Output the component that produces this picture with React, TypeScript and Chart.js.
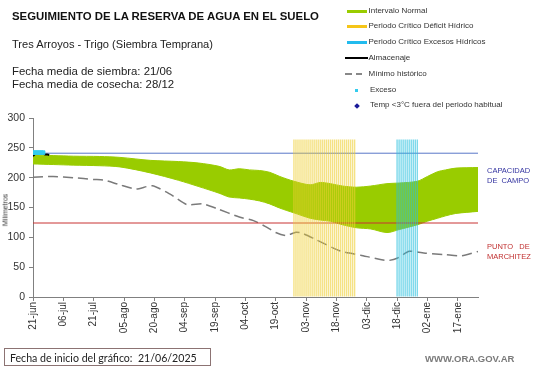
import React, { useEffect, useRef } from "react";
import { Chart, registerables } from "chart.js";

Chart.register(...registerables);

// ---- Data (days counted from 21/06/2025) ----
const xTickLabels = [
  "21-jun", "06-jul", "21-jul", "05-ago", "20-ago", "04-sep", "19-sep", "04-oct",
  "19-oct", "03-nov", "18-nov", "03-dic", "18-dic", "02-ene", "17-ene",
];

const bandDays = [0, 10, 20, 33, 43, 58, 72, 82, 92, 97, 102, 107, 112, 117, 122, 129, 137, 142, 147, 153, 160, 167, 175, 181, 190, 195, 200, 204, 209, 220];
const bandUpper = [238.5, 237, 236, 235.5, 234, 229, 227, 224.5, 219, 213, 215, 213, 212, 209, 202, 194, 188, 192, 190, 186, 184, 186, 190, 191, 194, 202, 210, 213, 216, 217];
const bandLower = [223, 222, 221, 220, 218, 208, 195.5, 185, 174, 167.5, 166, 164, 161, 156, 149, 141, 132, 129, 127, 121, 116, 114, 108, 113, 121, 127, 132, 136, 140, 143.5];

const minDays = [0, 10, 20, 30, 35, 43, 51, 59, 68, 76, 84, 91, 102, 109, 115, 120, 125, 130, 133, 140, 152, 162, 175, 180, 186, 194, 204, 212, 220];
const minValues = [200.5, 202, 200, 197, 196, 188, 181, 186.5, 172, 155, 156, 148, 134, 128, 118, 108, 103, 108.5, 107, 96, 77, 70, 61, 65, 76.5, 73.5, 71, 69, 76.5];

const storageDays = [0, 1, 2, 3, 4, 5, 6, 7, 8];
const storageValues = [236, 240, 240, 240, 240, 240, 239, 239, 238];

const excessDays = [0, 1, 2, 3, 4, 5];
const excessValues = [242, 242, 242, 242, 242, 242];

const fieldCapacity = 241;
const wiltingPoint = 124;

const deficitPeriod = [129, 159];
const excessPeriod = [180, 190];
const periodTop = 264;
const xMax = 220;

const legendItems = [
  { label: "Intervalo Normal", kind: "bar", color: "#99cc00" },
  { label: "Periodo Crítico Déficit Hídrico", kind: "bar", color: "#f5c518" },
  { label: "Periodo Crítico Excesos Hídricos", kind: "bar", color: "#22bbee" },
  { label: "Almacenaje", kind: "line", color: "#000000" },
  { label: "Mínimo histórico", kind: "dash", color: "#888888" },
  { label: "Exceso", kind: "dot", color: "#33ccee" },
  { label: "Temp <3°C fuera del periodo habitual", kind: "diamond", color: "#1a1a99" },
];

const pts = (xs: number[], ys: number[]) => xs.map((x, i) => ({ x, y: ys[i] }));
const daysIn = (p: number[], v: number) => {
  const out: { x: number; y: number }[] = [];
  for (let d = p[0]; d <= p[1]; d++) out.push({ x: d, y: v });
  return out;
};

const FONT = "'Liberation Sans', Arial, sans-serif";

export default function App() {
  const ref = useRef<HTMLCanvasElement | null>(null);

  useEffect(() => {
    if (!ref.current) return;
    const chart = new Chart(ref.current, {
      type: "line",
      data: {
        datasets: [
          {
            type: "bar",
            data: daysIn(deficitPeriod, periodTop),
            backgroundColor: "rgba(238, 206, 50, 0.6)",
            barPercentage: 0.7,
            categoryPercentage: 1,
            grouped: false,
          } as any,
          {
            type: "bar",
            data: daysIn(excessPeriod, periodTop),
            backgroundColor: "rgba(40, 192, 222, 0.6)",
            barPercentage: 0.7,
            categoryPercentage: 1,
            grouped: false,
          } as any,
          {
            type: "line",
            data: pts(excessDays, excessValues),
            showLine: false,
            pointStyle: "rect",
            pointRadius: 2.5,
            backgroundColor: "#33ccee",
            borderColor: "#33ccee",
          },
          {
            type: "line",
            data: pts(storageDays, storageValues),
            borderColor: "#000000",
            borderWidth: 2,
            pointRadius: 0,
          },
          {
            type: "line",
            data: [{ x: 0, y: fieldCapacity }, { x: xMax, y: fieldCapacity }],
            borderColor: "#5a78c8",
            borderWidth: 1,
            pointRadius: 0,
          },
          {
            type: "line",
            data: [{ x: 0, y: wiltingPoint }, { x: xMax, y: wiltingPoint }],
            borderColor: "#c83232",
            borderWidth: 1,
            pointRadius: 0,
          },
          {
            type: "line",
            data: pts(minDays, minValues),
            borderColor: "#7a7a7a",
            borderWidth: 1.5,
            borderDash: [10, 5],
            pointRadius: 0,
            tension: 0.2,
          },
          {
            type: "line",
            data: pts(bandDays, bandUpper),
            borderColor: "#99cc00",
            backgroundColor: "#99cc00",
            borderWidth: 1,
            pointRadius: 0,
            fill: "+1",
            tension: 0.3,
          },
          {
            type: "line",
            data: pts(bandDays, bandLower),
            borderColor: "#99cc00",
            borderWidth: 1,
            pointRadius: 0,
            fill: false,
            tension: 0.3,
          },
        ],
      },
      options: {
        animation: false,
        responsive: false,
        maintainAspectRatio: false,
        devicePixelRatio: 1,
        layout: { padding: { left: 0, right: 63, top: 118, bottom: 0 } },
        plugins: { legend: { display: false }, tooltip: { enabled: false } },
        scales: {
          x: {
            type: "linear",
            min: 0,
            max: xMax,
            offset: false,
            ticks: {
              stepSize: 15,
              includeBounds: false,
              autoSkip: false,
              minRotation: 90,
              maxRotation: 90,
              color: "#333333",
              padding: 1,
              font: { family: FONT, size: 10 },
              callback: (v: any) => xTickLabels[Math.round(Number(v) / 15)] ?? "",
            },
            grid: { drawOnChartArea: false, drawTicks: true, tickLength: 4, color: "#808080", offset: false },
            border: { display: true, color: "#808080", width: 1 },
            afterFit: (s: any) => { s.height = 71; },
          },
          y: {
            min: 0,
            max: 300,
            ticks: {
              stepSize: 50,
              color: "#333333",
              padding: 4,
              font: { family: FONT, size: 10.5 },
            },
            grid: { drawOnChartArea: false, drawTicks: true, tickLength: 4, color: "#808080" },
            border: { display: true, color: "#808080", width: 1 },
            afterFit: (s: any) => { s.width = 33; },
          },
        },
      } as any,
    });
    return () => chart.destroy();
  }, []);

  const abs = (left: number, top: number, extra: React.CSSProperties = {}): React.CSSProperties => ({
    position: "absolute",
    left,
    top,
    whiteSpace: "pre",
    fontFamily: FONT,
    lineHeight: 1,
    ...extra,
  });

  return (
    <div style={{ position: "absolute", left: 0, top: 0, width: 541, height: 368, background: "#ffffff", overflow: "hidden" }}>
      <canvas ref={ref} width={541} height={368} style={{ position: "absolute", left: 0, top: 0, width: 541, height: 368 }} />

      <div style={abs(12, 11, { fontSize: 11.4, fontWeight: "bold", color: "#111" })}>
        SEGUIMIENTO DE LA RESERVA DE AGUA EN EL SUELO
      </div>
      <div style={abs(12, 39, { fontSize: 11.1, color: "#222" })}>Tres Arroyos - Trigo (Siembra Temprana)</div>
      <div style={abs(12, 66, { fontSize: 11.4, color: "#222" })}>Fecha media de siembra: 21/06</div>
      <div style={abs(12, 79, { fontSize: 11.4, color: "#222" })}>Fecha media de cosecha: 28/12</div>

      {legendItems.map((it, i) => {
        const cy = 11 + i * 15.8;
        let sw: React.ReactNode = null;
        if (it.kind === "bar") {
          sw = <div style={{ position: "absolute", left: 347, top: cy - 1.5, width: 20, height: 3, background: it.color }} />;
        } else if (it.kind === "line") {
          sw = <div style={{ position: "absolute", left: 345, top: cy - 1, width: 23, height: 2, background: it.color }} />;
        } else if (it.kind === "dash") {
          sw = (
            <>
              <div style={{ position: "absolute", left: 345, top: cy - 0.75, width: 7, height: 1.5, background: it.color }} />
              <div style={{ position: "absolute", left: 356, top: cy - 0.75, width: 6, height: 1.5, background: it.color }} />
            </>
          );
        } else if (it.kind === "dot") {
          sw = <div style={{ position: "absolute", left: 355, top: cy - 1.5, width: 3, height: 3, background: it.color }} />;
        } else {
          sw = <div style={{ position: "absolute", left: 354.5, top: cy - 2, width: 4, height: 4, background: it.color, transform: "rotate(45deg)" }} />;
        }
        const tx = it.kind === "dot" || it.kind === "diamond" ? 370 : 368.5;
        return (
          <React.Fragment key={i}>
            {sw}
            <div style={abs(tx, cy - 4.5, { fontSize: 8, color: "#333" })}>{it.label}</div>
          </React.Fragment>
        );
      })}

      <div style={abs(487, 166, { fontSize: 7.5, color: "#3333a0", lineHeight: "9.5px" })}>{"CAPACIDAD\nDE  CAMPO"}</div>
      <div style={abs(487, 242, { fontSize: 7.5, color: "#c03030", lineHeight: "9.5px" })}>{"PUNTO   DE\nMARCHITEZ"}</div>

      <div
        style={abs(5, 210, {
          fontSize: 7,
          color: "#333",
          transform: "translate(-50%, -50%) rotate(-90deg)",
        })}
      >
        Milímetros
      </div>

      <div
        style={{
          position: "absolute",
          left: 4,
          top: 348,
          width: 207,
          height: 18,
          border: "1px solid #8c7373",
          boxSizing: "border-box",
        }}
      />
      <div style={abs(10, 352.5, { fontSize: 10.6, color: "#222", fontFamily: "Lato, 'Open Sans', sans-serif" })}>
        {"Fecha de inicio del gráfico:  21/06/2025"}
      </div>

      <div style={abs(425, 354, { fontSize: 9.5, fontWeight: "bold", color: "#7a7a7a" })}>WWW.ORA.GOV.AR</div>
    </div>
  );
}
